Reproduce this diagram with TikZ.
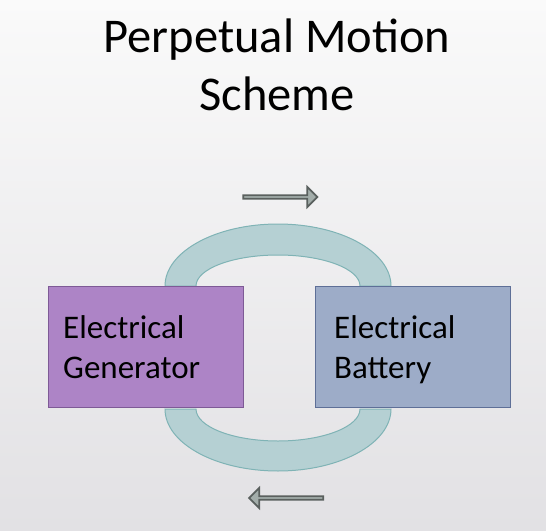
\documentclass[tikz,border=0pt]{standalone}
\usepackage{fontspec}
\setmainfont{Carlito}
\usetikzlibrary{shapes.arrows}
\definecolor{genfill}{HTML}{AD84C6}
\definecolor{gendraw}{HTML}{7E5A96}
\definecolor{batfill}{HTML}{9DACC8}
\definecolor{batdraw}{HTML}{5E6F97}
\definecolor{arcfill}{HTML}{B5D0D3}
\definecolor{arcdraw}{HTML}{7FB3B5}
\definecolor{arrfill}{HTML}{A3ADAA}
\definecolor{arrdraw}{HTML}{5A605E}
\definecolor{bgtop}{HTML}{FAFAFA}
\definecolor{bgbot}{HTML}{E2E1E4}
\tikzset{
  box/.style={rectangle, minimum width=195pt, minimum height=121pt, line width=1pt, inner sep=0pt},
  boxtext/.style={font=\fontsize{33}{40}\selectfont, align=left, inner sep=0pt, anchor=north west},
  band/.style={fill=arcfill, draw=arcdraw, line width=1pt},
  flowarrow/.style={single arrow, fill=arrfill, draw=arrdraw, line width=1.8pt, minimum height=74pt, minimum width=20pt, single arrow head extend=4.5pt, single arrow tip angle=90, inner sep=0pt}
}
\begin{document}
\begin{tikzpicture}[x=1pt,y=-1pt]
\useasboundingbox (0,0) rectangle (546,530);
\shade[top color=bgtop, bottom color=bgbot] (0,0) rectangle (546,530);
\node[font=\fontsize{48.5}{58}\selectfont, align=center] (title) at (277,65) {Perpetual Motion\\Scheme};
% bands
\draw[band] (165,286) arc[start angle=180, end angle=0, x radius=113, y radius=-62]
  -- (360,286) arc[start angle=0, end angle=180, x radius=82, y radius=-31] -- cycle;
\draw[band] (165,409) arc[start angle=180, end angle=360, x radius=113, y radius=-62]
  -- (360,409) arc[start angle=360, end angle=180, x radius=82, y radius=-32] -- cycle;
\node[box, fill=genfill, draw=gendraw] (gen) at (145.5,346.5) {};
\node[box, fill=batfill, draw=batdraw] (bat) at (413,346.5) {};
\node[boxtext] (gent) at (63,315) {Electrical\\Generator};
\node[boxtext] (batt) at (334,315) {Electrical\\Battery};
\node[flowarrow] (topar) at (279.5,197) {};
\node[flowarrow, shape border rotate=180] (botar) at (287,498) {};
\end{tikzpicture}
\end{document}
